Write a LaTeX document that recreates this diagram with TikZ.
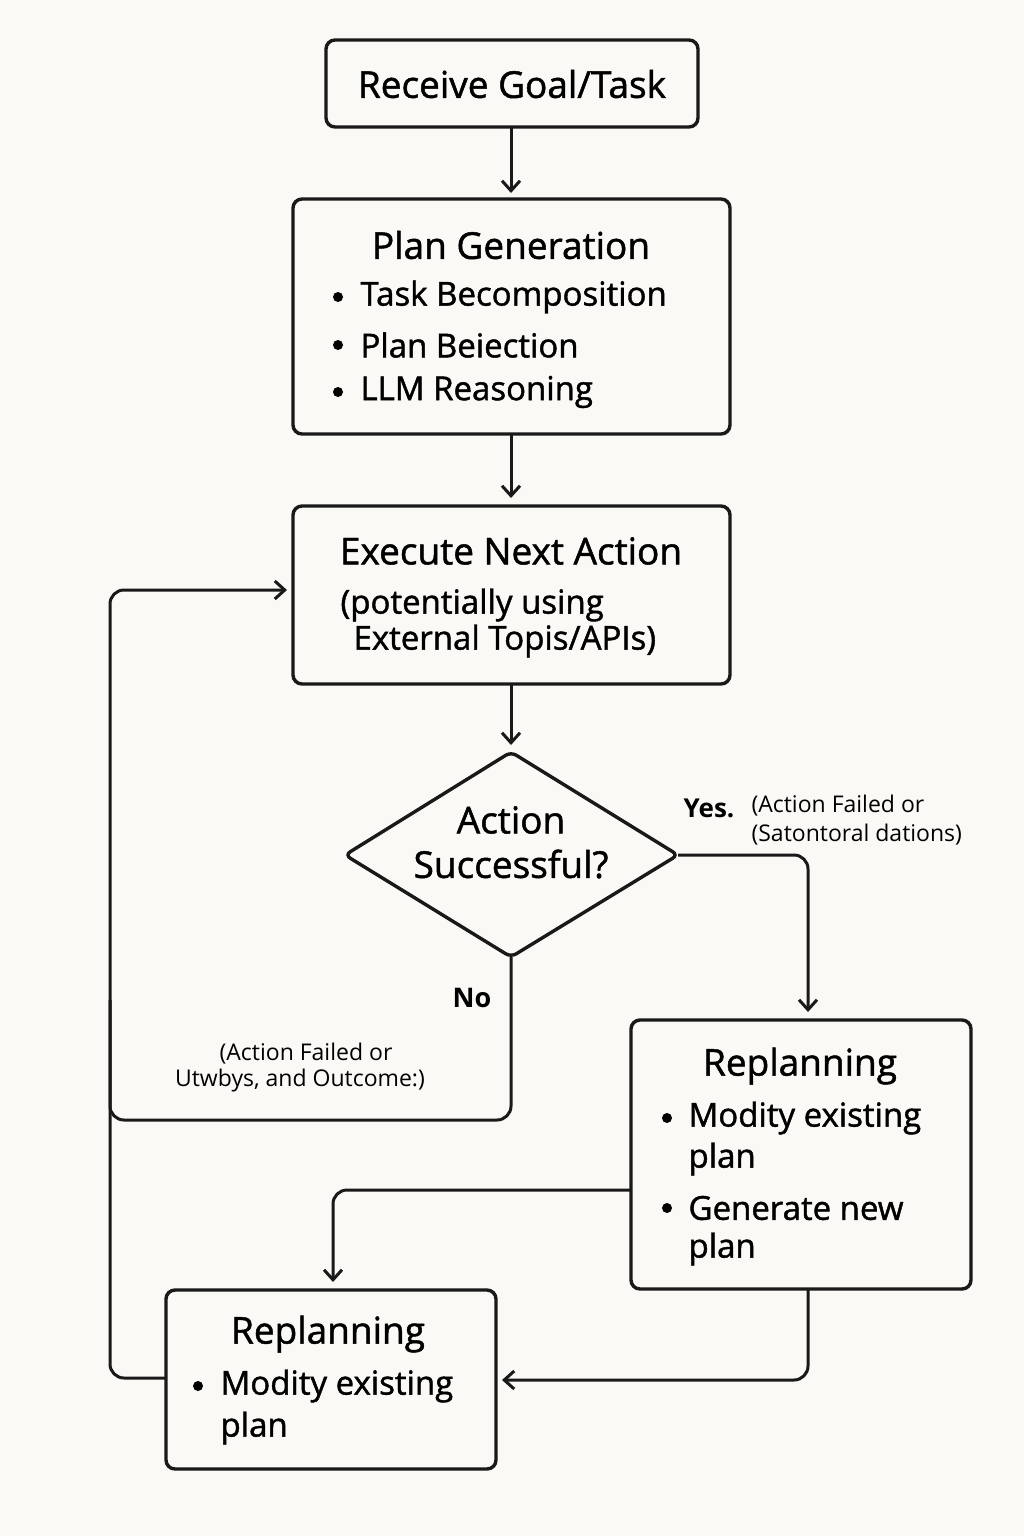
\documentclass[tikz,border=0pt]{standalone}
\usepackage{fontspec}
\setmainfont{Open Sans}
\newfontfamily\medf{Open Sans}[FakeBold=1.3]
\usetikzlibrary{arrows.meta}
\definecolor{bg}{RGB}{250,249,246}
\begin{document}
\begin{tikzpicture}[x=1pt,y=-1pt,
 box/.style={draw=black!90,line width=3.4pt,rounded corners=9pt},
 line/.style={draw=black!90,line width=3pt,rounded corners=14pt},
 arr/.style={line,-{Straight Barb[length=10pt,width=18pt,line width=3pt]}},
 ttl/.style={font=\medf\fontsize{37}{42}\selectfont},
 txt/.style={font=\medf\fontsize{33}{38}\selectfont,anchor=west},
 lbl/.style={font=\fontsize{23}{26}\selectfont}]
\fill[bg] (0,0) rectangle (1024,1536);
\useasboundingbox (0,0) rectangle (1024,1536);
% boxes
\draw[box] (326,40) rectangle (698,127);
\node[ttl] (recv) at (512,84) {Receive Goal/Task};
\draw[box] (293,199) rectangle (730,434);
\node[ttl] (pg) at (511,245) {Plan Generation};
\foreach \y/\t in {297/Task Becomposition,345/Plan Beiection,392/LLM Reasoning}
 {\fill (338,\y) circle (5pt); \node[txt] at (357,\y) {\t};}
\draw[box] (293,506) rectangle (730,684);
\node[ttl] (ex) at (511,551) {Execute Next Action};
\node[txt] (ex1) at (337,605) {(potentially using};
\node[txt] (ex2) at (350,641) {External Topis/APIs)};
\draw[box,rounded corners=6pt] (345,855) -- (511,752) -- (678,855) -- (511,957) -- cycle;
\node[ttl] (dec) at (511,820) {Action};
\node[ttl] at (511,864) {Successful?};
\draw[box] (631,1020) rectangle (971,1289);
\node[ttl] (r1) at (800,1066) {Replanning};
\fill (667,1118) circle (5pt); \node[txt] at (685,1118) {Modity existing};
\node[txt] at (685,1159) {plan};
\fill (667,1208) circle (5pt); \node[txt] at (685,1208) {Generate new};
\node[txt] at (685,1249) {plan};
\draw[box] (166,1290) rectangle (496,1469);
\node[ttl] (r2) at (328,1334) {Replanning};
\fill (198,1386) circle (5pt); \node[txt] at (217,1386) {Modity existing};
\node[txt] at (217,1428) {plan};
% coordinates
\coordinate (a1) at (511,127); \coordinate (a2) at (511,193);
\coordinate (b1) at (511,434); \coordinate (b2) at (511,498);
\coordinate (c1) at (511,684); \coordinate (c2) at (511,745);
\coordinate (dr) at (678,855); \coordinate (dr2) at (808,855); \coordinate (r1t) at (808,1012);
\coordinate (db) at (511,957); \coordinate (n1) at (511,1120); \coordinate (n2) at (110,1120);
\coordinate (n3) at (110,590); \coordinate (exl) at (287,590);
\coordinate (r2l) at (166,1378); \coordinate (r2c) at (110,1378);
\coordinate (r1l) at (631,1190); \coordinate (m1) at (333,1190); \coordinate (r2t) at (333,1282);
\coordinate (r1b) at (808,1289); \coordinate (m2) at (808,1380); \coordinate (r2r) at (502,1380);
\draw[arr] (a1) -- (a2);
\draw[arr] (b1) -- (b2);
\draw[arr] (c1) -- (c2);
\draw[arr] (dr) -- (dr2) -- (r1t);
\draw[line] (db) -- (n1) -- (n2) -- (110,1000);
\draw[arr] (r2l) -- (r2c) -- (n3) -- (exl);
\draw[arr] (r1l) -- (m1) -- (r2t);
\draw[arr] (r1b) -- (m2) -- (r2r);
% labels
\node[font=\bfseries\fontsize{26}{30}\selectfont] at (709,808) {Yes.};
\node[lbl,anchor=west] at (748,806) {(Action Failed or};
\node[lbl,anchor=west] at (748,835) {(Satontoral dations)};
\node[font=\bfseries\fontsize{27}{30}\selectfont] at (472,998) {No};
\node[lbl] at (306,1054) {(Action Failed or};
\node[lbl] at (300,1081) {Utwbys, and Outcome:)};
\end{tikzpicture}
\end{document}
